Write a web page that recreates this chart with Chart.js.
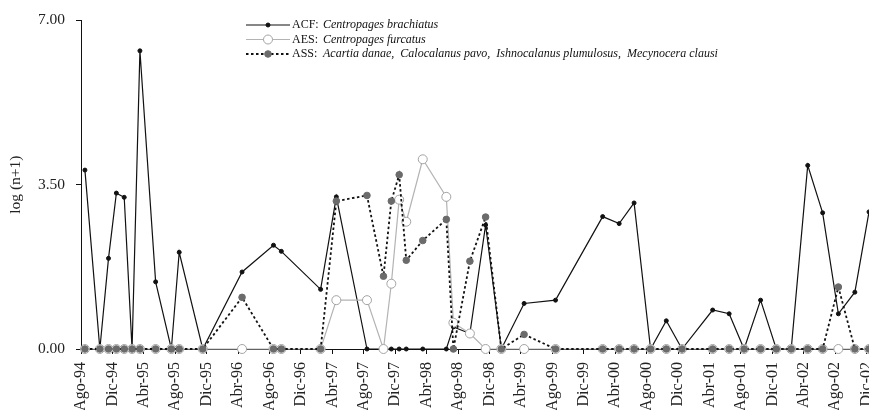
<!DOCTYPE html>
<html>
<head>
<meta charset="utf-8">
<script src="https://cdn.jsdelivr.net/npm/chart.js@4.4.0/dist/chart.umd.min.js"></script>
<style>
  html, body { margin: 0; padding: 0; background: #fff; overflow: hidden; }
  canvas { display: block; }
</style>
</head>
<body>
<canvas id="copepodChart" width="880" height="410"></canvas>
<script>
// Months elapsed since Aug-1994 for each sample
const sampleMonth = [0.5, 2.4, 3.5, 4.5, 5.5, 6.5, 7.5, 9.5, 11.5, 12.5, 15.5, 20.5, 24.5, 25.5,
    30.5, 32.5, 36.4, 38.5, 39.5, 40.5, 41.4, 43.5, 46.5, 47.4, 49.5, 51.5, 53.5, 56.4, 60.4,
    66.4, 68.5, 70.4, 72.5, 74.5, 76.5, 80.4, 82.5, 84.4, 86.5, 88.5, 90.4, 92.5, 94.4, 96.4,
    98.5, 100.3];

const acfValues = [3.81, 0, 1.93, 3.32, 3.23, 0, 6.35, 1.43, 0, 2.06, 0, 1.64, 2.21, 2.08,
    1.27, 3.24, 0, 0, 0, 0, 0, 0, 0, 0.47, 0.33, 2.64, 0, 0.97, 1.04,
    2.82, 2.67, 3.11, 0, 0.60, 0, 0.83, 0.75, 0, 1.04, 0, 0, 3.91, 2.90, 0.75,
    1.21, 2.92];

const aesValues = [0, 0, 0, 0, 0, 0, 0, 0, 0, 0, 0, 0, 0, 0,
    0, 1.04, 1.04, 0, 1.39, 3.18, 2.71, 4.04, 3.24, 0.56, 0.33, 0, 0, 0, 0,
    0, 0, 0, 0, 0, 0, 0, 0, 0, 0, 0, 0, 0, 0, 0,
    0, 0];

const assValues = [0, 0, 0, 0, 0, 0, 0, 0, 0, 0, 0, 1.10, 0, 0,
    0, 3.15, 3.27, 1.55, 3.15, 3.71, 1.89, 2.31, 2.76, 0, 1.87, 2.81, 0, 0.31, 0,
    0, 0, 0, 0, 0, 0, 0, 0, 0, 0, 0, 0, 0, 0, 1.32,
    0, 0];

// One label every 4 months
const tickLabels = ["Ago-94", "Dic-94", "Abr-95", "Ago-95", "Dic-95", "Abr-96", "Ago-96", "Dic-96",
    "Abr-97", "Ago-97", "Dic-97", "Abr-98", "Ago-98", "Dic-98", "Abr-99", "Ago-99", "Dic-99",
    "Abr-00", "Ago-00", "Dic-00", "Abr-01", "Ago-01", "Dic-01", "Abr-02", "Ago-02", "Dic-02"];

const seriesCodes = ["ACF:", "AES:", "ASS:"];
const seriesNames = [
    "Centropages brachiatus",
    "Centropages furcatus",
    "Acartia danae,  Calocalanus pavo,  Ishnocalanus plumulosus,  Mecynocera clausi"
];

const serif = '"Liberation Serif", "Times New Roman", serif';

function toPoints(values) {
    return sampleMonth.map((m, i) => ({ x: m, y: values[i] }));
}

// legend drawn by hand so the species names can be italic
const speciesLegend = {
    id: "speciesLegend",
    afterDraw(chart) {
        const ctx = chart.ctx;
        ctx.save();
        chart.data.datasets.forEach((ds, i) => {
            const y = 25 + i * 14.5;
            ctx.beginPath();
            ctx.setLineDash(ds.borderDash || []);
            ctx.strokeStyle = ds.borderColor;
            ctx.lineWidth = ds.borderWidth;
            ctx.moveTo(246, y);
            ctx.lineTo(290, y);
            ctx.stroke();
            ctx.setLineDash([]);
            ctx.beginPath();
            ctx.arc(268, y, ds.pointRadius, 0, Math.PI * 2);
            ctx.fillStyle = ds.pointBackgroundColor;
            ctx.fill();
            ctx.lineWidth = ds.pointBorderWidth;
            ctx.strokeStyle = ds.pointBorderColor;
            ctx.stroke();

            ctx.fillStyle = "#111";
            ctx.textBaseline = "middle";
            ctx.font = "12px " + serif;
            ctx.fillText(seriesCodes[i], 292, y);
            ctx.font = "italic 12px " + serif;
            ctx.fillText(seriesNames[i], 323, y);
        });
        ctx.restore();
    }
};

const ctx = document.getElementById("copepodChart").getContext("2d");
new Chart(ctx, {
    type: "line",
    data: {
        datasets: [
            {
                label: "ACF",
                data: toPoints(acfValues),
                borderColor: "#111",
                borderWidth: 1.2,
                pointRadius: 2,
                pointBackgroundColor: "#111",
                pointBorderColor: "#111",
                pointBorderWidth: 1,
                tension: 0,
                clip: false,
                order: 3
            },
            {
                label: "AES",
                data: toPoints(aesValues),
                borderColor: "#b3b3b3",
                borderWidth: 1.2,
                pointRadius: 4.5,
                pointBackgroundColor: "#fff",
                pointBorderColor: "#a3a3a3",
                pointBorderWidth: 1,
                tension: 0,
                clip: false,
                order: 2
            },
            {
                label: "ASS",
                data: toPoints(assValues),
                borderColor: "#111",
                borderWidth: 1.8,
                borderDash: [2.5, 2.5],
                pointRadius: 3.3,
                pointBackgroundColor: "#6b6b6b",
                pointBorderColor: "#6b6b6b",
                pointBorderWidth: 1,
                tension: 0,
                clip: false,
                order: 1
            }
        ]
    },
    options: {
        responsive: false,
        animation: false,
        layout: { padding: { top: 16, left: 0, right: 0, bottom: 0 } },
        plugins: {
            legend: { display: false },
            tooltip: { enabled: false }
        },
        scales: {
            x: {
                type: "linear",
                min: 0,
                max: 101,
                afterFit(scale) {
                    scale.height = 61;
                    scale.paddingLeft = 0;
                    scale.paddingRight = 0;
                },
                grid: { drawOnChartArea: false, drawTicks: true, tickLength: 5, color: "#111" },
                border: { display: true, color: "#111", width: 1 },
                ticks: {
                    stepSize: 4,
                    includeBounds: false,
                    autoSkip: false,
                    minRotation: 90,
                    maxRotation: 90,
                    padding: 8,
                    color: "#222",
                    font: { family: serif, size: 16 },
                    callback: (v) => tickLabels[v / 4]
                }
            },
            y: {
                min: 0,
                max: 7,
                afterFit(scale) {
                    scale.width = 81;
                },
                grid: { drawOnChartArea: false, drawTicks: true, tickLength: 5, color: "#111" },
                border: { display: true, color: "#111", width: 1 },
                ticks: {
                    stepSize: 3.5,
                    padding: 11,
                    color: "#222",
                    font: { family: serif, size: 15.5 },
                    callback: (v) => v.toFixed(2)
                },
                title: {
                    display: true,
                    text: "log (n+1)",
                    color: "#222",
                    padding: { top: 7, bottom: 0 },
                    font: { family: serif, size: 15.5 }
                }
            }
        }
    },
    plugins: [speciesLegend]
});
</script>
</body>
</html>
